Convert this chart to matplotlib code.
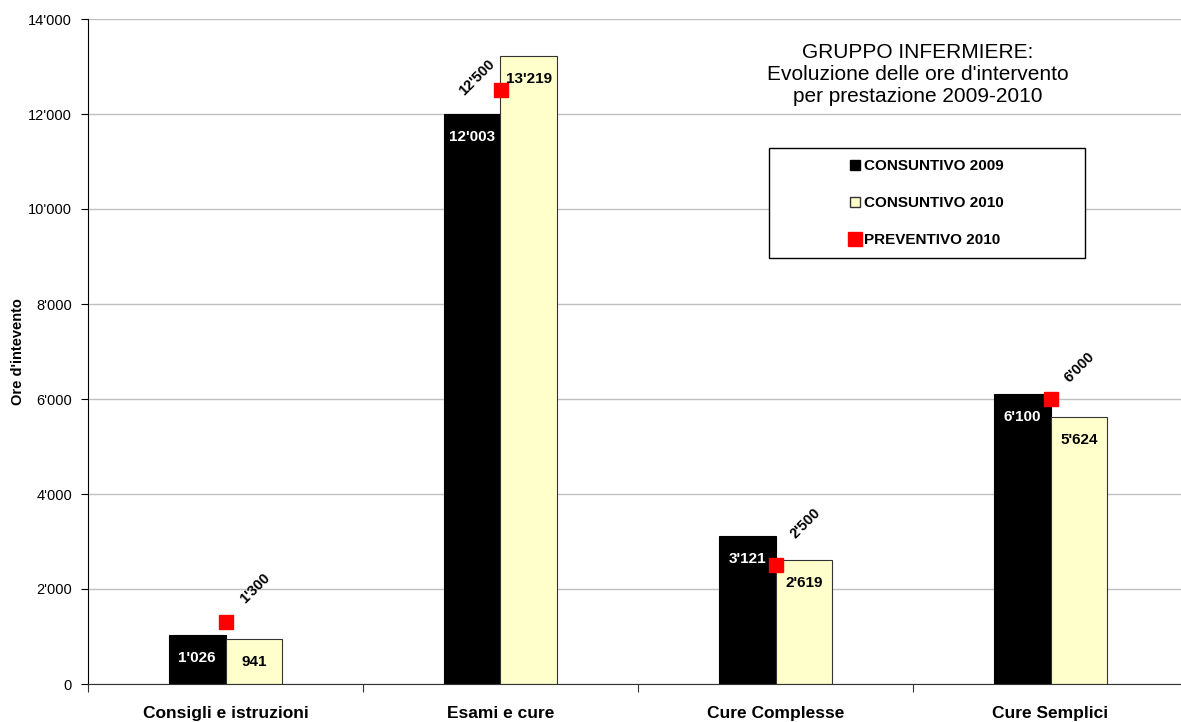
import numpy as np
import matplotlib
matplotlib.use("Agg")
import matplotlib.pyplot as plt
from matplotlib.patches import Rectangle
from matplotlib.lines import Line2D

plt.rcParams['font.family'] = ['Liberation Sans', 'DejaVu Sans']

# dati
categorie = ['Consigli e istruzioni', 'Esami e cure', 'Cure Complesse', 'Cure Semplici']
consuntivo_2009 = [1026, 12003, 3121, 6100]
consuntivo_2010 = [941, 13219, 2619, 5624]
preventivo_2010 = [1300, 12500, 2500, 6000]
yticks = [0, 2000, 4000, 6000, 8000, 10000, 12000, 14000]

# spostamento (pixel) delle etichette del preventivo
offset_prev = [(30, 34), (-24, 13), (30, 42), (29, 32)]


def fmt(v):
    return f"{v:,}".replace(",", "'")


fig = plt.figure(figsize=(11.81, 7.22), dpi=100)
ax = fig.add_axes([88 / 1181, 38 / 722, 1100 / 1181, 665 / 722])

x = np.arange(len(categorie))
w = 0.207

ax.bar(x - w / 2, consuntivo_2009, w, color='black', edgecolor='black', linewidth=0.8, zorder=2)
ax.bar(x + w / 2, consuntivo_2010, w, color='#FFFFCC', edgecolor='#333333', linewidth=0.8, zorder=2)
ax.plot(x, preventivo_2010, 's', color='#FF0000', markersize=9.5, linestyle='none', zorder=4)

# etichette valori dentro le barre
for i in range(len(x)):
    ax.annotate(fmt(consuntivo_2009[i]), (x[i] - w / 2, consuntivo_2009[i]), xytext=(0, -23),
                textcoords='offset pixels', ha='center', va='center', color='white',
                fontsize=11, fontweight='bold', zorder=5)
    ax.annotate(fmt(consuntivo_2010[i]), (x[i] + w / 2, consuntivo_2010[i]), xytext=(0, -23),
                textcoords='offset pixels', ha='center', va='center', color='black',
                fontsize=11, fontweight='bold', zorder=5)
    ax.annotate(fmt(preventivo_2010[i]), (x[i], preventivo_2010[i]), xytext=offset_prev[i],
                textcoords='offset pixels', ha='center', va='center', color='black',
                fontsize=10.5, fontweight='bold', rotation=45, zorder=5)

ax.set_xlim(-0.5, 3.5)
ax.set_ylim(0, 14000)
ax.set_yticks(yticks)
ax.set_yticklabels([fmt(v) for v in yticks], fontsize=10.5)
ax.yaxis.grid(True, color='#C0C0C0', linewidth=1)
ax.set_axisbelow(True)

ax.set_xticks([-0.5, 0.5, 1.5, 2.5])
ax.set_xticklabels([])
ax.set_xticks(x, minor=True)
ax.set_xticklabels(categorie, minor=True, fontsize=12.5, fontweight='bold')
ax.tick_params(axis='x', which='major', direction='out', length=6, color='#333333')
ax.tick_params(axis='x', which='minor', length=0, pad=16)
ax.tick_params(axis='y', direction='out', length=5, pad=6.5)

for s in ['top', 'right']:
    ax.spines[s].set_visible(False)
ax.spines['left'].set_color('black')
ax.spines['bottom'].set_color('#333333')

ax.set_ylabel("Ore d'intevento", fontsize=10.5, fontweight='bold', labelpad=2)

fig.text(918 / 1181, 1 - 75 / 722,
         "GRUPPO INFERMIERE:\nEvoluzione delle ore d'intervento\nper prestazione 2009-2010",
         ha='center', va='center', fontsize=15, linespacing=1.2)

# legenda
fig.patches.append(Rectangle((769 / 1181, 1 - 258 / 722), 316 / 1181, 110 / 722,
                             transform=fig.transFigure, facecolor='white',
                             edgecolor='black', linewidth=1, zorder=6))
handles = [
    Line2D([], [], marker='s', linestyle='none', color='black', markersize=7),
    Line2D([], [], marker='s', linestyle='none', markerfacecolor='#FFFFCC',
           markeredgecolor='#333333', markersize=7),
    Line2D([], [], marker='s', linestyle='none', color='#FF0000', markersize=9.5),
]
leg = fig.legend(handles, ['CONSUNTIVO 2009', 'CONSUNTIVO 2010', 'PREVENTIVO 2010'],
                 loc='center', bbox_to_anchor=(927 / 1181, 1 - 203 / 722),
                 frameon=False, handlelength=0.6, handletextpad=0.3, labelspacing=1.5,
                 prop={'weight': 'bold', 'size': 11})
leg.set_zorder(7)

fig.savefig('out.png', dpi=100)
